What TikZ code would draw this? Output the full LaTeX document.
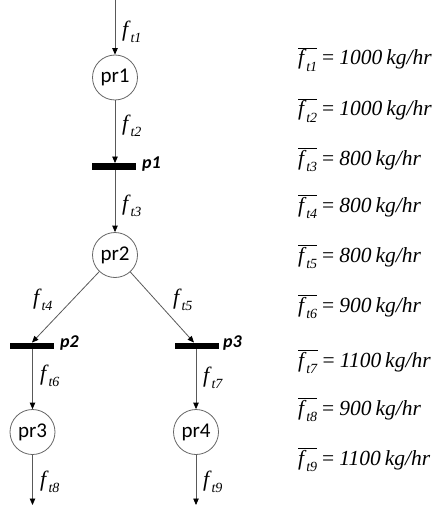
\documentclass[tikz,border=0pt]{standalone}
\usepackage{fontspec}
\setmainfont{Liberation Serif}
\newfontfamily\carl{Carlito}
\usetikzlibrary{arrows.meta}
\newcommand{\fsubs}[2]{\textit{f}\kern-0.3pt\raisebox{-0.3em}{\fontsize{#2}{#2}\selectfont\textit{t#1}}}
\newcommand{\fsub}[1]{\fsubs{#1}{14}}
\newcommand{\feq}[2]{$\overline{\hbox{\fsubs{#1}{14}}}$\kern5pt=\kern5pt\textit{#2\kern4pt kg/hr}}
\begin{document}
\begin{tikzpicture}[x=1pt,y=-1pt,
 proc/.style={circle,draw=black!60,line width=0.8pt,minimum size=45pt,inner sep=0pt,font=\carl\fontsize{21}{21}\selectfont},
 barnode/.style={fill=black,minimum width=44pt,minimum height=6.5pt,inner sep=0pt},
 flowarrow/.style={draw=black!65,line width=0.8pt,-{Triangle[length=6.5pt,width=5.5pt,color=black]}},
 flab/.style={anchor=west,inner sep=0pt,font=\fontsize{22}{22}\selectfont},
 plab/.style={anchor=west,inner sep=0pt,font=\carl\bfseries\itshape\fontsize{18}{18}\selectfont},
 eq/.style={anchor=base west,inner sep=0pt,font=\fontsize{21.5}{21.5}\selectfont}]
\useasboundingbox (0,0) rectangle (439,505);
\coordinate (in1) at (115,0);
\node[proc] (pr1) at (115,77.5) {pr1};
\node[barnode] (p1) at (114,166.5) {};
\node[proc] (pr2) at (115,255) {pr2};
\node[barnode] (p2) at (32,346) {};
\node[barnode] (p3) at (197,346) {};
\node[proc] (pr3) at (32.5,432) {pr3};
\node[proc] (pr4) at (196,432) {pr4};
\coordinate (out3) at (32.5,505);
\coordinate (out4) at (196,505);

\draw[flowarrow] (in1) -- (pr1);
\draw[flowarrow] (pr1) -- (pr1 |- p1.north);
\draw[flowarrow] (p1.south -| pr1) -- (pr2);
\draw[flowarrow] (pr2) -- (p2.north);
\draw[flowarrow] (pr2) -- ([xshift=-3pt]p3.north);
\draw[flowarrow] (p2.south -| pr3) -- (pr3);
\draw[flowarrow] (p3.south -| pr4) -- (pr4);
\draw[flowarrow] (pr3) -- (out3);
\draw[flowarrow] (pr4) -- (out4);

\node[flab] (l1) at (122,32) {\fsub{1}};
\node[flab] (l2) at (122,126) {\fsub{2}};
\node[flab] (l3) at (122,206) {\fsub{3}};
\node[flab] (l4) at (33,300) {\fsub{4}};
\node[flab] (l5) at (173,300) {\fsub{5}};
\node[flab] (l6) at (40,376) {\fsub{6}};
\node[flab] (l7) at (203,378) {\fsub{7}};
\node[flab] (l8) at (40,482) {\fsub{8}};
\node[flab] (l9) at (203,482) {\fsub{9}};

\node[plab] (lp1) at (142,164) {p1};
\node[plab] (lp2) at (60,343) {p2};
\node[plab] (lp3) at (223,343) {p3};

\node[eq] (e1) at (298,65) {\feq{1}{1000}};
\node[eq] (e2) at (298,116) {\feq{2}{1000}};
\node[eq] (e3) at (298,165) {\feq{3}{800}};
\node[eq] (e4) at (298,212) {\feq{4}{800}};
\node[eq] (e5) at (298,262) {\feq{5}{800}};
\node[eq] (e6) at (298,312) {\feq{6}{900}};
\node[eq] (e7) at (298,367) {\feq{7}{1100}};
\node[eq] (e8) at (298,415) {\feq{8}{900}};
\node[eq] (e9) at (298,465) {\feq{9}{1100}};
\end{tikzpicture}
\end{document}
